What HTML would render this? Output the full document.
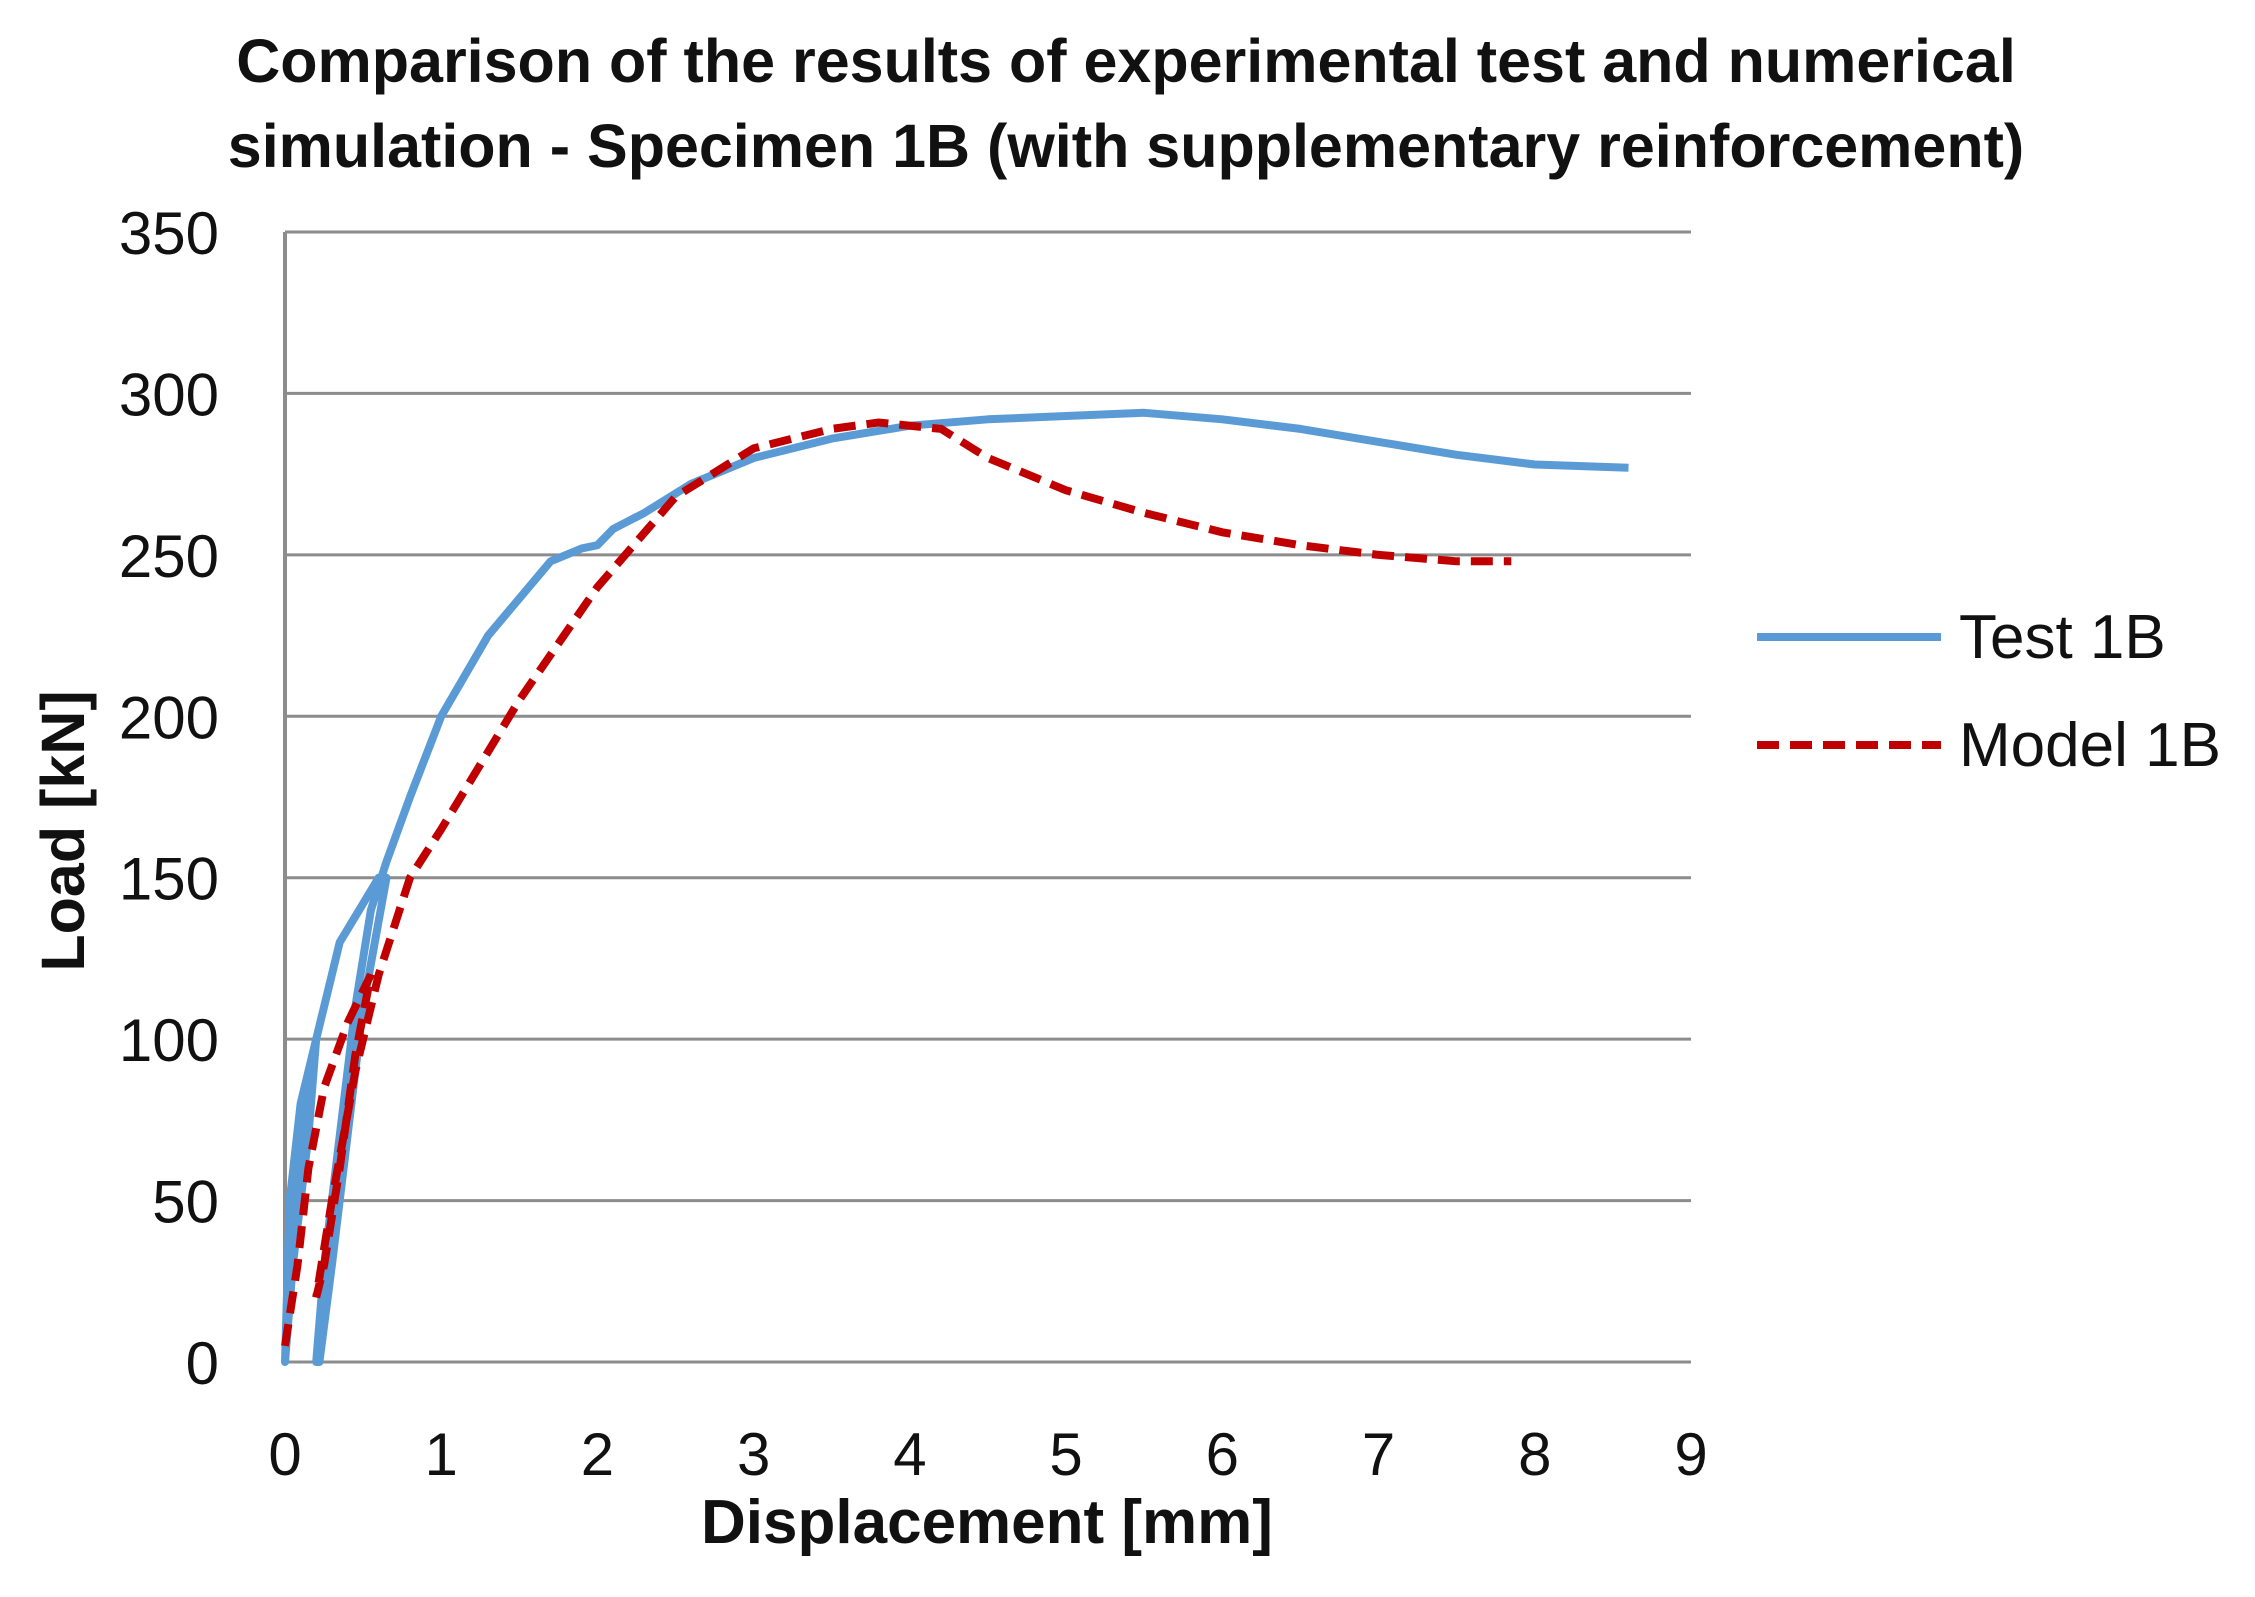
<!DOCTYPE html>
<html><head><meta charset="utf-8"><style>
body{margin:0;background:#fff}
svg text{font-family:"Liberation Sans","DejaVu Sans",sans-serif;fill:#111}
</style></head><body>
<svg id="chart" width="2255" height="1592" viewBox="0 0 2255 1592">
<text x="1126" y="82" font-size="61" font-weight="bold" text-anchor="middle">Comparison of the results of experimental test  and numerical</text>
<text x="1126" y="167" font-size="61" font-weight="bold" text-anchor="middle">simulation - Specimen 1B (with supplementary reinforcement)</text>
<g id="grid"></g><g id="ticks"></g><g id="series"></g>
<text x="987" y="1543" font-size="62" font-weight="bold" text-anchor="middle">Displacement [mm]</text>
<text transform="translate(84,831) rotate(-90)" font-size="61" font-weight="bold" text-anchor="middle">Load [kN]</text>
<g>
<line x1="1757" y1="637" x2="1941" y2="637" stroke="#5b9bd5" stroke-width="8"/>
<text x="1959" y="658" font-size="62">Test 1B</text>
<line x1="1757" y1="745" x2="1941" y2="745" stroke="#c00000" stroke-width="8" stroke-dasharray="22,11"/>
<text x="1959" y="766" font-size="62">Model 1B</text>
</g>
</svg>
<script>
const xTicks=[0,1,2,3,4,5,6,7,8,9];
const yTicks=[0,50,100,150,200,250,300,350];
const testX=[0,0.03,0.1,0.2,0.15,0.05,0,0.08,0.2,0.3,0.35,0.45,0.6,0.65,0.5,0.4,0.3,0.22,0.2,0.25,0.35,0.45,0.55,0.65,0.8,1.0,1.3,1.7,1.9,2.0,2.1,2.3,2.6,3.0,3.5,4.0,4.5,5.0,5.5,6.0,6.5,7.0,7.5,8.0,8.6];
const testY=[0,50,80,100,70,30,0,60,100,120,130,138,150,150,110,70,30,0,0,30,70,110,140,155,175,200,225,248,252,253,258,263,272,280,286,290,292,293,294,292,289,285,281,278,277];
const modelX=[0,0.08,0.15,0.25,0.4,0.55,0.45,0.35,0.25,0.2,0.3,0.45,0.6,0.8,1.0,1.5,2.0,2.5,3.0,3.5,3.8,4.2,4.5,5.0,5.5,6.0,6.5,7.0,7.5,7.85];
const modelY=[5,30,60,85,105,120,95,60,30,20,50,90,120,150,165,205,240,268,283,289,291,289,280,270,263,257,253,250,248,248];
const X0=285,X1=1691,Y0=1362,Y1=232;
const sx=v=>X0+v/9*(X1-X0), sy=v=>Y0-v/350*(Y0-Y1);
const NS='http://www.w3.org/2000/svg';
const grid=document.getElementById('grid'),ticks=document.getElementById('ticks'),series=document.getElementById('series');
yTicks.forEach(t=>{
 const l=document.createElementNS(NS,'line');
 l.setAttribute('x1',X0);l.setAttribute('x2',X1);l.setAttribute('y1',sy(t));l.setAttribute('y2',sy(t));
 l.setAttribute('stroke','#8c8c8c');l.setAttribute('stroke-width','3');
 
 
 grid.appendChild(l);
 const tx=document.createElementNS(NS,'text');
 tx.setAttribute('x',219);tx.setAttribute('y',sy(t)+22);tx.setAttribute('font-size','60');tx.setAttribute('text-anchor','end');
 tx.textContent=t;
 
 
 ticks.appendChild(tx);
});
const ax=document.createElementNS(NS,'line');
ax.setAttribute('x1',X0);ax.setAttribute('x2',X0);ax.setAttribute('y1',Y1);ax.setAttribute('y2',Y0);
ax.setAttribute('stroke','#8c8c8c');ax.setAttribute('stroke-width','4');


grid.appendChild(ax);
xTicks.forEach(t=>{
 const tx=document.createElementNS(NS,'text');
 tx.setAttribute('x',sx(t));tx.setAttribute('y',1475);tx.setAttribute('font-size','60');tx.setAttribute('text-anchor','middle');
 tx.textContent=t;
 
 
 ticks.appendChild(tx);
});
function path(xs,ys){return xs.map((x,i)=>(i?'L':'M')+sx(x).toFixed(1)+','+sy(ys[i]).toFixed(1)).join(' ');}
const pt=document.createElementNS(NS,'path');
pt.setAttribute('d',path(testX,testY));pt.setAttribute('fill','none');pt.setAttribute('stroke','#5b9bd5');pt.setAttribute('stroke-width','8');pt.setAttribute('stroke-linejoin','round');


series.appendChild(pt);
const pm=document.createElementNS(NS,'path');
pm.setAttribute('d',path(modelX,modelY));pm.setAttribute('fill','none');pm.setAttribute('stroke','#c00000');pm.setAttribute('stroke-width','8');pm.setAttribute('stroke-dasharray','22,11');


series.appendChild(pm);
</script>
</body></html>
